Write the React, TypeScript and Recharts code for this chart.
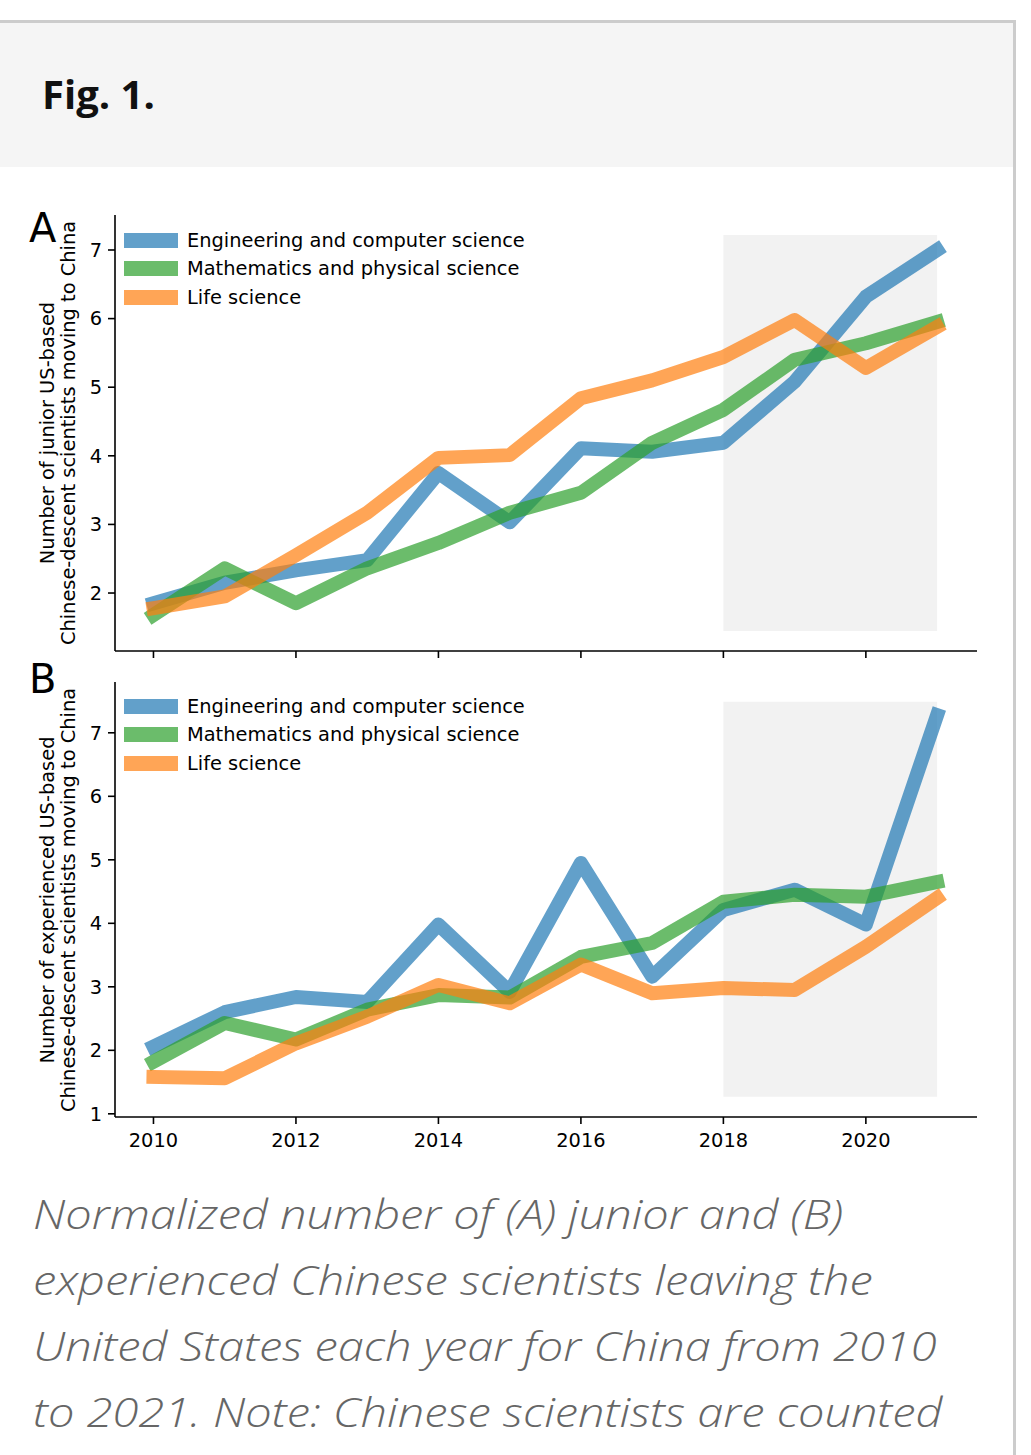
import React from 'react';
import { LineChart, Line, XAxis, YAxis, ReferenceArea, Legend } from 'recharts';

const years = [2010, 2011, 2012, 2013, 2014, 2015, 2016, 2017, 2018, 2019, 2020, 2021];
const seriesNames = ['Engineering and computer science', 'Mathematics and physical science', 'Life science'];
const seriesColors = ['#1f77b4', '#2ca02c', '#ff7f0e'];

const juniorEng = [1.85, 2.15, 2.33, 2.48, 3.75, 3.03, 4.11, 4.06, 4.19, 5.08, 6.32, 7.0];
const juniorMath = [1.68, 2.36, 1.85, 2.36, 2.73, 3.17, 3.46, 4.19, 4.67, 5.4, 5.64, 5.95];
const juniorLife = [1.78, 1.95, 2.55, 3.17, 3.97, 4.01, 4.84, 5.1, 5.44, 5.98, 5.28, 5.88];

const expEng = [2.06, 2.6, 2.84, 2.76, 3.98, 2.92, 4.95, 3.16, 4.21, 4.53, 3.98, 7.28];
const expMath = [1.82, 2.43, 2.17, 2.64, 2.87, 2.83, 3.47, 3.69, 4.34, 4.45, 4.42, 4.65];
const expLife = [1.58, 1.56, 2.11, 2.53, 3.03, 2.74, 3.35, 2.9, 2.98, 2.95, 3.63, 4.4];

const xTicks = [2010, 2012, 2014, 2016, 2018, 2020];
const yTicksA = [2, 3, 4, 5, 6, 7];
const yTicksB = [1, 2, 3, 4, 5, 6, 7];

const xDomain = [2009.46, 2021.56];
const yDomainA = [1.155, 7.51];
const yDomainB = [0.95, 7.8];
const shadeYears = [2018, 2021];
const shadeA = [1.446, 7.22];
const shadeB = [1.27, 7.49];

const captionLines = [
  'Normalized number of (A) junior and (B)',
  'experienced Chinese scientists leaving the',
  'United States each year for China from 2010',
  'to 2021. Note: Chinese scientists are counted',
];

const build = (a: number[], b: number[], c: number[]) =>
  years.map((y, i) => ({ year: y, eng: a[i], math: b[i], life: c[i] }));

const dataA = build(juniorEng, juniorMath, juniorLife);
const dataB = build(expEng, expMath, expLife);
const keys = ['eng', 'math', 'life'];

const FONT = '"DejaVu Sans", sans-serif';
const FS = 19.4;
const tickStyle = { fill: '#000', fontSize: FS, fontFamily: FONT };

const renderLegend = (props: any) => {
  const payload = [...(props.payload || [])].sort(
    (a: any, b: any) => seriesNames.indexOf(a.value) - seriesNames.indexOf(b.value)
  );
  return (
    <div style={{ fontFamily: FONT, fontSize: FS, color: '#000' }}>
      {payload.map((p: any, i: number) => (
        <div key={i} style={{ display: 'flex', alignItems: 'center', height: 28.5, whiteSpace: 'nowrap' }}>
          <div style={{ width: 54, height: 15, background: p.color, opacity: 0.7, marginRight: 9, flex: 'none' }} />
          <span>{p.value}</span>
        </div>
      ))}
    </div>
  );
};

function Panel(props: {
  data: any[];
  top: number;
  height: number;
  marginTop: number;
  xAxisHeight: number;
  yDomain: number[];
  yTicks: number[];
  shade: number[];
  showXLabels: boolean;
  legendTop: number;
}) {
  const { data, top, height, marginTop, xAxisHeight, yDomain, yTicks, shade, showXLabels, legendTop } = props;
  return (
    <div style={{ position: 'absolute', left: 0, top }}>
      <LineChart
        width={1031}
        height={height}
        data={data}
        margin={{ top: marginTop, right: 54, bottom: 0, left: 55 }}
      >
        <ReferenceArea
          x1={shadeYears[0]}
          x2={shadeYears[1]}
          y1={shade[0]}
          y2={shade[1]}
          fill="#f2f2f2"
          fillOpacity={1}
          stroke="none"
        />
        <XAxis
          dataKey="year"
          type="number"
          domain={xDomain}
          ticks={xTicks}
          allowDataOverflow
          height={xAxisHeight}
          tickSize={7}
          tickMargin={9}
          tick={tickStyle}
          tickFormatter={(v: number) => (showXLabels ? String(v) : '')}
          axisLine={{ stroke: '#000', strokeWidth: 1.6 }}
          tickLine={{ stroke: '#000', strokeWidth: 1.6 }}
        />
        <YAxis
          type="number"
          domain={yDomain}
          ticks={yTicks}
          allowDataOverflow
          width={60}
          tickSize={7}
          tickMargin={6}
          tick={tickStyle}
          axisLine={{ stroke: '#000', strokeWidth: 1.6 }}
          tickLine={{ stroke: '#000', strokeWidth: 1.6 }}
        />
        <Legend
          content={renderLegend}
          layout="vertical"
          verticalAlign="middle"
          align="center"
          wrapperStyle={{ position: 'absolute', left: 124, top: legendTop, width: 'auto', height: 'auto' }}
        />
        {keys.map((k, i) => (
          <Line
            key={k}
            type="linear"
            dataKey={k}
            name={seriesNames[i]}
            stroke={seriesColors[i]}
            strokeOpacity={0.7}
            strokeWidth={14}
            strokeLinecap="square"
            strokeLinejoin="round"
            dot={false}
            activeDot={false}
            isAnimationActive={false}
          />
        ))}
      </LineChart>
    </div>
  );
}

export default function App() {
  return (
    <div style={{ position: 'absolute', left: 0, top: 0, width: 1031, height: 1455, background: '#fff', overflow: 'hidden' }}>
      <div style={{ position: 'absolute', left: 0, top: 20, width: 1016, height: 3, background: '#cccccc' }} />
      <div style={{ position: 'absolute', left: 1013, top: 20, width: 3, height: 1435, background: '#cccccc' }} />
      <div style={{ position: 'absolute', left: 0, top: 23, width: 1013, height: 144, background: '#f5f5f5' }} />
      <div
        style={{
          position: 'absolute',
          left: 42,
          top: 67,
          fontFamily: '"Open Sans", sans-serif',
          fontWeight: 700,
          fontSize: 40,
          lineHeight: '54px',
          color: '#111',
          whiteSpace: 'nowrap',
        }}
      >
        Fig. 1.
      </div>

      <Panel
        data={dataA}
        top={200}
        height={461}
        marginTop={15}
        xAxisHeight={10}
        yDomain={yDomainA}
        yTicks={yTicksA}
        shade={shadeA}
        showXLabels={false}
        legendTop={26}
      />
      <Panel
        data={dataB}
        top={660}
        height={497}
        marginTop={22}
        xAxisHeight={40}
        yDomain={yDomainB}
        yTicks={yTicksB}
        shade={shadeB}
        showXLabels={true}
        legendTop={32}
      />

      <svg style={{ position: 'absolute', left: 0, top: 0, pointerEvents: 'none' }} width={1031} height={1455}>
        <text x={29} y={242} fontFamily={FONT} fontSize={40} fill="#000">A</text>
        <text x={29} y={693} fontFamily={FONT} fontSize={40} fill="#000">B</text>
        <g fontFamily={FONT} fontSize={FS} fill="#000" textAnchor="middle">
          <text x={54} y={433} transform="rotate(-90 54 433)">Number of junior US-based</text>
          <text x={75} y={433} transform="rotate(-90 75 433)">Chinese-descent scientists moving to China</text>
          <text x={54} y={900} transform="rotate(-90 54 900)">Number of experienced US-based</text>
          <text x={75} y={900} transform="rotate(-90 75 900)">Chinese-descent scientists moving to China</text>
        </g>
      </svg>

      <div
        style={{
          position: 'absolute',
          left: 33,
          top: 1181,
          fontFamily: '"Open Sans", sans-serif',
          fontStyle: 'italic',
          fontWeight: 300,
          fontSize: 40,
          lineHeight: '66px',
          color: '#666',
          whiteSpace: 'nowrap',
          transform: 'scaleX(1.175)',
          transformOrigin: '0 0',
        }}
      >
        {captionLines.map((l, i) => (
          <div key={i}>{l}</div>
        ))}
      </div>
    </div>
  );
}
